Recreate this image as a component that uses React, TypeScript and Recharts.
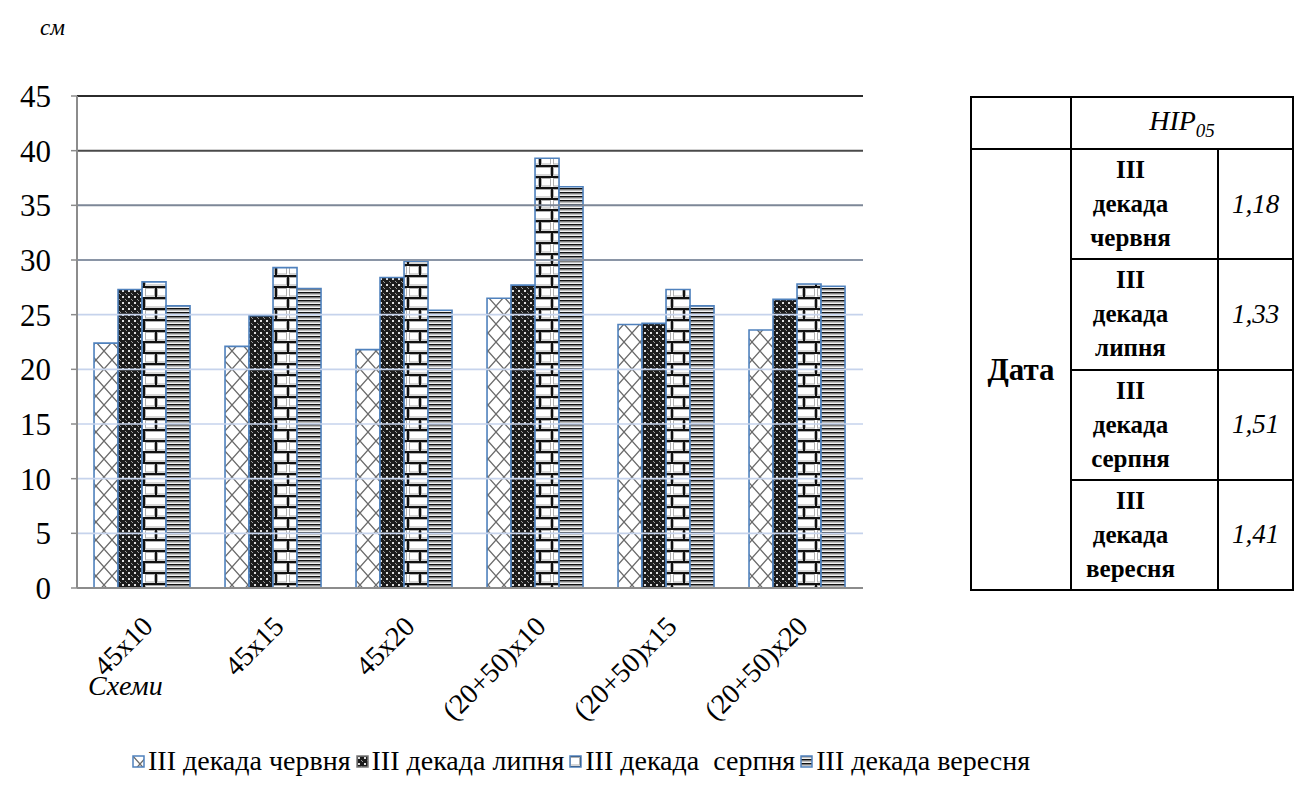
import React from "react";
import { BarChart, Bar, XAxis, YAxis, ReferenceLine } from "recharts";

const categories = ["45x10", "45x15", "45x20", "(20+50)x10", "(20+50)x15", "(20+50)x20"];
const seriesNames = ["ІІІ декада червня", "ІІІ декада липня", "ІІІ декада  серпня", "ІІІ декада вересня"];
const june = [22.4, 22.1, 21.8, 26.5, 24.1, 23.6];
const july = [27.3, 24.9, 28.4, 27.7, 24.2, 26.4];
const august = [28.0, 29.3, 29.9, 39.3, 27.3, 27.8];
const september = [25.8, 27.4, 25.4, 36.7, 25.8, 27.6];
const yTicks = [0, 5, 10, 15, 20, 25, 30, 35, 40, 45];
const gridColors: Record<number, string> = { 45: "#2b2b2b", 40: "#4a4a4a", 35: "#7d8797", 30: "#8a95a6" };
const tableRows = [
  { label: ["ІІІ", "декада", "червня"], value: "1,18" },
  { label: ["ІІІ", "декада", "липня"], value: "1,33" },
  { label: ["ІІІ", "декада", "серпня"], value: "1,51" },
  { label: ["ІІІ", "декада", "вересня"], value: "1,41" },
];

const data = categories.map((c, i) => ({
  name: c,
  june: june[i],
  july: july[i],
  august: august[i],
  september: september[i],
}));

const keys = ["june", "july", "august", "september"];
const patternIds = ["patDiamond", "patDark", "patBrick", "patLines"];
const SERIF = "'Liberation Serif', 'Times New Roman', serif";

const XTick = (props: any) => {
  const { x, y, payload } = props;
  return (
    <g transform={`translate(${x + 12},${y + 40})`}>
      <text transform="rotate(-45)" textAnchor="end" fontFamily={SERIF} fontSize={28} fill="#000">
        {payload.value}
      </text>
    </g>
  );
};

const Patterns = () => (
  <defs>
    <pattern id="patDiamond" width="16" height="18" patternUnits="userSpaceOnUse">
      <rect width="16" height="18" fill="#fff" />
      <path d="M0 0 L16 18 M16 0 L0 18" stroke="#6a6a6a" strokeWidth="1.3" />
    </pattern>
    <pattern id="patDark" width="6" height="6" patternUnits="userSpaceOnUse">
      <rect width="6" height="6" fill="#1c1c1c" />
      <rect x="2" y="2" width="2" height="2" fill="#e0e0e0" />
      <rect x="0" y="0" width="1" height="1" fill="#9a9a9a" />
      <rect x="5" y="5" width="1" height="1" fill="#9a9a9a" />
    </pattern>
    <pattern id="patBrick" width="24" height="22" patternUnits="userSpaceOnUse">
      <rect width="24" height="22" fill="#fff" />
      <rect x="1.5" y="2.5" width="9" height="7.5" fill="#fff" stroke="#b0b0b0" strokeWidth="1" />
      <rect x="13.5" y="2.5" width="9" height="7.5" fill="#fff" stroke="#b0b0b0" strokeWidth="1" />
      <rect x="1.5" y="13.5" width="21" height="7.5" fill="#fff" stroke="#b0b0b0" strokeWidth="1" />
      <path d="M0 1 H24 M0 12 H24 M12 1 V12 M0 12 V22 M24 12 V22" stroke="#111" strokeWidth="2" />
    </pattern>
    <pattern id="patLines" width="4" height="4" patternUnits="userSpaceOnUse">
      <rect width="4" height="4" fill="#f2f2f2" />
      <rect y="0" width="4" height="1.6" fill="#111" />
      <rect y="1.6" width="4" height="1" fill="#9c9c9c" />
    </pattern>
  </defs>
);

const cellBorder = "2px solid #000";
const tdBase: React.CSSProperties = { border: cellBorder, fontFamily: SERIF, fontSize: 25, padding: 0 };

export default function App() {
  return (
    <div style={{ position: "absolute", left: 0, top: 0, width: 1313, height: 785, background: "#fff", fontFamily: SERIF }}>
      <div style={{ position: "absolute", left: 40, top: 15, fontSize: 23, fontStyle: "italic" }}>см</div>
      <div style={{ position: "absolute", left: 88, top: 670, fontSize: 28, fontStyle: "italic" }}>Схеми</div>
      <div style={{ position: "absolute", left: 0, top: 0 }}>
        <BarChart
          width={900}
          height={785}
          data={data}
          margin={{ top: 96, right: 37, left: 17, bottom: 97 }}
          barCategoryGap="13%"
          barGap={0}
        >
          <Patterns />
          <XAxis
            xAxisId="bounds"
            type="number"
            domain={[0, 6]}
            ticks={[0, 1, 2, 3, 4, 5, 6]}
            tick={false}
            axisLine={false}
            tickLine={{ stroke: "#8c8c8c", strokeWidth: 1.5 }}
            tickSize={7}
            height={0}
          />
          <XAxis
            xAxisId="cat"
            dataKey="name"
            height={100}
            interval={0}
            tickLine={false}
            tickSize={0}
            tickMargin={0}
            axisLine={{ stroke: "#8c8c8c", strokeWidth: 2 }}
            tick={<XTick />}
          />
          <YAxis
            domain={[0, 45]}
            ticks={yTicks}
            width={60}
            tickSize={6}
            tickMargin={20}
            axisLine={{ stroke: "#8c8c8c", strokeWidth: 2 }}
            tickLine={{ stroke: "#8c8c8c", strokeWidth: 1.5 }}
            tick={{ fontFamily: SERIF, fontSize: 31, fill: "#000" }}
          />
          {yTicks
            .filter((t) => t > 0)
            .map((t) => (
              <ReferenceLine
                key={t}
                y={t}
                xAxisId="cat"
                stroke={gridColors[t] || "#c6d3ec"}
                strokeWidth={t >= 30 ? 2 : 1.6}
                ifOverflow="extendDomain"
              />
            ))}
          {keys.map((k, i) => (
            <Bar
              key={k}
              xAxisId="cat"
              dataKey={k}
              name={seriesNames[i]}
              fill={`url(#${patternIds[i]})`}
              stroke="#4f81bd"
              strokeWidth={1.6}
              isAnimationActive={false}
            />
          ))}
        </BarChart>
      </div>

      <div
        style={{
          position: "absolute",
          left: 132,
          top: 745,
          display: "flex",
          alignItems: "center",
          fontSize: 28,
          whiteSpace: "pre",
        }}
      >
        {seriesNames.map((n, i) => (
          <div key={n} style={{ display: "flex", alignItems: "center", marginRight: 5 }}>
            <svg width={13} height={13} style={{ marginRight: 3 }}>
              <rect x={1} y={1} width={11} height={11} fill={`url(#${patternIds[i]})`} stroke={i === 1 ? "#777" : "#4f81bd"} strokeWidth={1.5} />
            </svg>
            <span>{n}</span>
          </div>
        ))}
      </div>

      <table
        style={{
          position: "absolute",
          left: 970,
          top: 96,
          width: 322,
          height: 495,
          borderCollapse: "collapse",
          tableLayout: "fixed",
          border: cellBorder,
          fontFamily: SERIF,
          fontSize: 25,
        }}
      >
        <colgroup>
          <col style={{ width: 100 }} />
          <col style={{ width: 147 }} />
          <col style={{ width: 75 }} />
        </colgroup>
        <tbody>
          <tr style={{ height: 52 }}>
            <td style={tdBase}></td>
            <td colSpan={2} style={{ ...tdBase, textAlign: "center", fontStyle: "italic", fontSize: 28 }}>
              НІР<sub style={{ fontSize: 19 }}>05</sub>
            </td>
          </tr>
          {tableRows.map((r, i) => (
            <tr key={i} style={{ height: 110 }}>
              {i === 0 && (
                <td rowSpan={4} style={{ ...tdBase, textAlign: "center", fontWeight: "bold", fontSize: 31 }}>
                  Дата
                </td>
              )}
              <td style={{ ...tdBase, textAlign: "center", fontWeight: "bold", lineHeight: "34px", paddingRight: 28 }}>
                {r.label.map((l) => (
                  <div key={l}>{l}</div>
                ))}
              </td>
              <td style={{ ...tdBase, textAlign: "center", fontStyle: "italic", fontSize: 27 }}>{r.value}</td>
            </tr>
          ))}
        </tbody>
      </table>
    </div>
  );
}
